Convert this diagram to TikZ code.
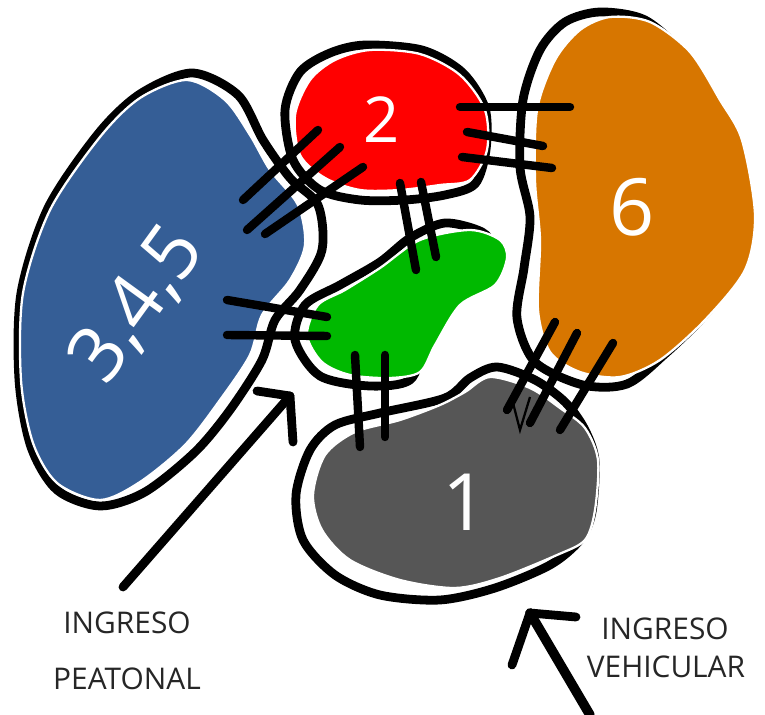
\documentclass[tikz,border=0pt]{standalone}
\usepackage{fontspec}
\setmainfont{Open Sans}
\usetikzlibrary{calc}
\definecolor{INK}{HTML}{000000}
\definecolor{BLUE}{HTML}{355E96}
\definecolor{RED}{HTML}{FF0000}
\definecolor{GREEN}{HTML}{00B900}
\definecolor{GREY}{HTML}{565656}
\definecolor{ORANGE}{HTML}{D77600}
\definecolor{TXT}{HTML}{262626}

\begin{document}
\begin{tikzpicture}[x=0.02cm,y=-0.02cm]
\tikzset{rim/.style={line width=5pt,INK,line join=round},blob/.style={draw=white,line width=1.3pt},
 hatch/.style={line width=4.8pt,INK,line cap=round,line join=round},num/.style={text=white,inner sep=0pt},
 lbl/.style={font=\fontsize{17}{20}\selectfont,text=TXT,inner sep=0pt}}
\useasboundingbox (0,0) rectangle (765,715);
% outlines
\draw[rim] plot[smooth cycle] coordinates {(497,367) (535,380) (565,402) (584,428) (595,460) (592,512) (580,540) (550,565) (495,588) (440,600) (380,595) (335,575) (303,540) (296,495) (310,450) (335,425) (380,413) (445,398) (470,378)};
\draw[rim] plot[smooth cycle] coordinates {(600,12) (645,20) (686,56) (716,102) (736,142) (749,215) (739,270) (702,318) (665,354) (627,384) (583,385) (535,362) (517,318) (524,268) (530,217) (520,167) (523,100) (540,50) (565,22)};
\draw[rim] plot[smooth cycle] coordinates {(365,45) (422,50) (462,72) (485,108) (486,150) (475,184) (445,195) (405,200) (360,200) (320,190) (293,160) (285,110) (300,72) (330,53)};
\draw[rim] plot[smooth cycle] coordinates {(192,73) (238,95) (263,140) (290,178) (318,205) (322,250) (300,290) (275,320) (262,360) (230,410) (195,452) (145,492) (100,506) (57,490) (31,447) (19,380) (21,293) (48,208) (98,134) (140,94)};
\draw[rim] plot[smooth cycle] coordinates {(445,223) (482,232) (490,248) (468,284) (445,312) (425,345) (410,380) (370,386) (320,376) (295,340) (305,305) (340,285) (380,262) (410,238)};
% fills
\fill[GREY,blob] plot[smooth cycle] coordinates {(490,377) (530,388) (560,408) (585,428) (598,460) (595,510) (585,540) (557,555) (500,578) (455,588) (400,580) (350,560) (322,530) (313,495) (325,455) (355,432) (400,420) (440,405) (465,392)};
\fill[ORANGE,blob] plot[smooth cycle] coordinates {(610,17) (650,22) (690,52) (720,100) (742,140) (755,215) (745,270) (705,320) (660,360) (620,377) (580,372) (550,352) (538,310) (540,240) (535,180) (537,110) (555,60) (580,30)};
\fill[RED,blob] plot[smooth cycle] coordinates {(370,50) (420,54) (460,75) (485,110) (487,150) (470,180) (440,185) (400,190) (360,190) (325,178) (300,155) (295,115) (310,80) (335,60)};
\fill[BLUE,blob] plot[smooth cycle] coordinates {(187,80) (225,100) (250,135) (270,170) (298,205) (305,245) (290,280) (262,315) (250,355) (220,400) (185,445) (140,482) (100,500) (57,483) (33,443) (21,380) (23,293) (50,210) (100,137) (140,98)};
\fill[GREEN,blob] plot[smooth cycle] coordinates {(470,230) (500,240) (507,258) (495,285) (460,305) (435,345) (420,372) (390,378) (350,375) (322,362) (307,335) (318,305) (345,290) (380,268) (420,240)};
% links
\foreach \xa/\ya/\xb/\yb in {243/200/318/130,247/230/340/147,265/234/363/167,227/300/327/317,227/335/327/336,
 400/183/416/270,421/182/436/257,460/107/570/107,467/132/543/146,462/157/552/168,355/355/360/447,385/355/385/437,
 555/322/507/410,577/333/530/423,613/343/560/430}{\draw[hatch] (\xa,\ya)--(\xb,\yb);}
\draw[INK,line width=1.3pt] (513,403)--(520,430)--(530,397);
% numbers
\node[num,font=\fontsize{36}{40}\selectfont] (n2) at (382,120) {2};
\node[num,font=\fontsize{45}{50}\selectfont] (n6) at (632,207) {6};
\node[num,font=\fontsize{45}{50}\selectfont] (n1) at (465,502) {1};
\node[num,font=\fontsize{44}{50}\selectfont,rotate=54] (n345) at (138,305) {3,4,5};
% entrances
\node[lbl] (ing1) at (127,623) {INGRESO};
\node[lbl] (peat) at (127,679) {PEATONAL};
\node[lbl] (ing2) at (665,629) {INGRESO};
\node[lbl] (vehi) at (666,667) {VEHICULAR};
\coordinate (pa) at (123,587); \coordinate (pb) at (290,396);
\coordinate (va) at (590,715); \coordinate (vb) at (530,613);
\draw[hatch,line width=5pt] (pa)--(pb);
\draw[hatch,line width=5pt] ($(pb)+(-33,-5)$)--(pb)--($(pb)+(3,46)$);
\draw[hatch,line width=5.5pt] (va)--(vb);
\draw[hatch,line width=5pt] ($(vb)+(-18,52)$)--(vb)--($(vb)+(46,4)$);
\end{tikzpicture}
\end{document}
